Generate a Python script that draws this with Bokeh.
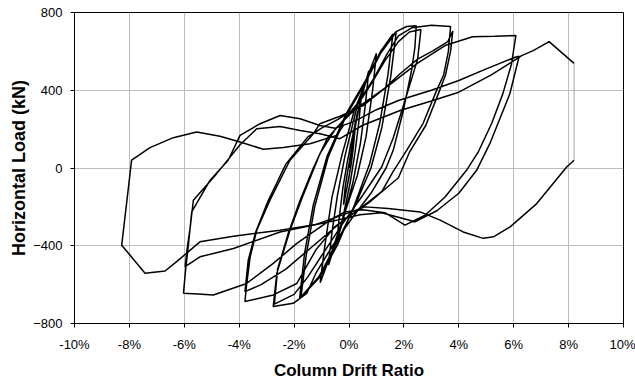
from bokeh.plotting import figure
from bokeh.models import Range1d, FixedTicker
from bokeh.embed import file_html
from bokeh.resources import INLINE

# ---- data: (drift %, load kN) ----
cycle_1 = [(0, 0), (0.1, 100), (0.22, 200), (0.16, 110), (0.08, 20), (-0.06, -90), (-0.2, -190),
           (-0.14, -100), (-0.04, -10), (0.05, 60)]
cycle_2 = [(0.05, 60), (0.25, 230), (0.45, 370), (0.36, 240), (0.22, 80), (0.05, -70), (-0.2, -240),
           (-0.45, -390), (-0.36, -260), (-0.22, -100), (-0.05, 40)]
cycle_3 = [(-0.05, 40), (0.3, 280), (0.72, 500), (0.6, 330), (0.42, 130), (0.15, -70), (-0.3, -310),
           (-0.75, -500), (-0.62, -330), (-0.42, -140), (-0.15, 60)]
cycle_4 = [(-0.15, 60), (0.3, 320), (0.7, 480), (1.0, 590), (0.86, 400), (0.62, 160), (0.3, -40),
           (-0.2, -250), (-0.65, -440), (-1.05, -590), (-0.88, -400), (-0.62, -150), (-0.25, 70)]
cycle_5 = [(-0.25, 70), (0.2, 300), (0.7, 470), (1.15, 600), (1.6, 690), (1.42, 480), (1.12, 230),
           (0.75, 20), (0.2, -190), (-0.4, -390), (-1.05, -560), (-1.75, -665), (-1.56, -450),
           (-1.25, -200), (-0.75, 60)]
cycle_6 = [(-0.75, 60), (-0.1, 270), (0.6, 440), (1.15, 590), (1.72, 700), (1.52, 470), (1.2, 210),
           (0.8, 0), (0.2, -200), (-0.5, -400), (-1.1, -560), (-1.8, -672), (-1.62, -440),
           (-1.3, -190), (-0.8, 60)]
cycle_7 = [(-0.8, 60), (-0.1, 280), (0.6, 450), (1.2, 610), (1.7, 700), (2.1, 728), (2.45, 732),
           (2.4, 620), (2.28, 502), (1.98, 296), (1.61, 91), (1.35, 0), (0.8, -130), (0.1, -260),
           (-0.6, -400), (-1.2, -540), (-1.54, -645), (-2.03, -696), (-2.76, -713), (-2.63, -542),
           (-2.15, -320), (-1.7, -150), (-1.06, 74), (-0.5, 200)]
cycle_8 = [(-0.5, 200), (0.2, 300), (0.8, 430), (1.3, 550), (1.8, 650), (2.2, 700), (2.62, 712),
           (2.5, 560), (2.04, 347), (1.6, 150), (1.19, 5), (0.5, -140), (-0.2, -280), (-0.9, -430),
           (-1.5, -560), (-2.0, -650), (-2.72, -700), (-2.6, -520), (-2.2, -330), (-1.78, -166),
           (-1.3, 0), (-0.8, 150), (-0.3, 230)]
cycle_9 = [(-0.3, 230), (0.3, 330), (0.9, 460), (1.4, 590), (1.8, 680), (2.3, 722), (3.0, 735),
           (3.7, 728), (3.62, 600), (3.45, 480), (3.19, 398), (2.7, 230), (2.1, 91), (1.6, -20),
           (1.2, -120), (0.3, -220), (-0.5, -300), (-1.2, -420), (-1.9, -594), (-2.76, -653),
           (-3.79, -687), (-3.73, -600), (-3.6, -457), (-3.36, -320), (-2.88, -166), (-2.15, 40),
           (-1.3, 176), (-1.06, 228), (-0.4, 262)]
cycle_10 = [(-0.4, 262), (0.5, 320), (1.3, 410), (1.86, 485), (2.5, 560), (3.07, 604), (3.6, 650),
            (3.78, 705), (3.7, 600), (3.52, 480), (3.25, 380), (2.8, 220), (2.2, 80), (1.8, -50),
            (0.8, -170), (-0.3, -280), (-1.3, -400), (-2.3, -520), (-3.2, -600), (-3.79, -636),
            (-3.67, -474), (-3.4, -330), (-2.95, -170), (-2.3, 20), (-1.5, 160), (-1.0, 205),
            (-0.4, 250)]
cycle_11 = [(-0.4, 250), (0.5, 330), (1.5, 430), (2.5, 540), (3.5, 630), (4.5, 675), (5.3, 678),
            (6.08, 682), (5.92, 535), (5.6, 380), (5.2, 230), (4.7, 80), (4.28, -12), (3.5, -149),
            (2.77, -243), (2.04, -294), (1.31, -230), (0.5, -215), (-0.15, -226), (-0.69, -268),
            (-1.9, -388), (-2.76, -491), (-3.73, -594), (-4.94, -653), (-5.5, -648), (-6.03, -644),
            (-5.95, -520), (-5.85, -396), (-5.73, -226), (-5.06, -63), (-4.4, 40), (-3.97, 168),
            (-3.24, 228), (-2.51, 270), (-1.78, 253), (-1.06, 219), (-0.5, 205)]
cycle_12 = [(-0.5, 205), (0.2, 240), (1.0, 300), (1.8, 347), (3.0, 400), (4.0, 450), (5.0, 510),
            (6.05, 570), (6.2, 575), (5.86, 382), (5.13, 125), (4.65, -12), (4.0, -130), (3.2, -220),
            (2.4, -277), (1.7, -250), (1.19, -230), (0.4, -240), (-0.5, -270), (-1.5, -300),
            (-2.51, -329), (-4.21, -414), (-5.43, -457), (-5.97, -508), (-5.9, -420), (-5.78, -300),
            (-5.67, -166), (-4.82, -29), (-3.97, 120), (-3.36, 202), (-2.51, 214), (-1.78, 193),
            (-1.06, 176), (-0.33, 151)]
final_push = [(-0.33, 151), (0.5, 220), (1.86, 296), (3.0, 345), (4.0, 390), (5.2, 480), (6.29, 578),
              (6.71, 604), (7.29, 650), (8.2, 538)]
final_gap = [(8.2, 538), (8.2, 40)]
final_pull = [(8.2, 40), (7.93, 5), (6.84, -183), (5.87, -303), (5.26, -354), (4.89, -362),
              (4.16, -329), (3.32, -268), (2.59, -226), (1.43, -208), (0.58, -200), (-0.2, -240),
              (-1.2, -290), (-2.51, -320), (-4.21, -351), (-5.43, -380), (-6.28, -482), (-6.7, -530),
              (-7.43, -542), (-8.28, -397), (-7.92, 40), (-7.25, 105), (-6.4, 156), (-5.55, 185),
              (-4.7, 163), (-3.97, 134), (-3.12, 96), (-2.39, 105), (-1.42, 125), (-0.45, 168),
              (-0.2, 219)]

x_ticks = [-10, -8, -6, -4, -2, 0, 2, 4, 6, 8, 10]
x_tick_labels = ["-10%", "-8%", "-6%", "-4%", "-2%", "0%", "2%", "4%", "6%", "8%", "10%"]
y_ticks = [-800, -400, 0, 400, 800]

main_path = (cycle_1 + cycle_2 + cycle_3 + cycle_4 + cycle_5 + cycle_6 + cycle_7 + cycle_8 +
             cycle_9 + cycle_10 + cycle_11 + cycle_12 + final_push)

FONT = "Liberation Sans"

p = figure(width=635, height=383, x_range=Range1d(-10, 10), y_range=Range1d(-800, 800),
           output_backend="svg", toolbar_location=None,
           min_border_left=74, min_border_right=12, min_border_top=12, min_border_bottom=60)
p.background_fill_color = "white"
p.border_fill_color = "white"
p.outline_line_color = "black"
p.outline_line_width = 1

for seg, col, w in [(main_path, "black", 1.5), (final_gap, "#8a8a8a", 0.8), (final_pull, "black", 1.5)]:
    xs = [a for a, b in seg]
    ys = [b for a, b in seg]
    p.line(xs, ys, line_color=col, line_width=w)

p.xaxis.ticker = FixedTicker(ticks=x_ticks)
p.xaxis.major_label_overrides = {t: l for t, l in zip(x_ticks, x_tick_labels)}
p.yaxis.ticker = FixedTicker(ticks=y_ticks)
p.xgrid.ticker = FixedTicker(ticks=x_ticks)
p.ygrid.ticker = FixedTicker(ticks=y_ticks)
p.grid.grid_line_color = "#bdbdbd"
p.grid.grid_line_width = 1

for ax in (p.xaxis, p.yaxis):
    ax.axis_line_color = "black"
    ax.axis_line_width = 1
    ax.major_tick_line_color = "black"
    ax.major_tick_in = 0
    ax.major_tick_out = 4
    ax.minor_tick_line_color = None
    ax.major_label_text_font = FONT
    ax.major_label_text_font_size = "13px"
    ax.major_label_text_color = "black"
    ax.axis_label_text_font = FONT
    ax.axis_label_text_font_style = "bold"
    ax.axis_label_text_color = "black"

p.xaxis.axis_label = "Column Drift Ratio"
p.xaxis.axis_label_text_font_size = "17px"
p.xaxis.major_label_standoff = 9
p.xaxis.axis_label_standoff = 6
p.yaxis.axis_label = "Horizontal Load (kN)"
p.yaxis.axis_label_text_font_size = "18px"
p.yaxis.major_label_standoff = 8
p.yaxis.axis_label_standoff = 1

open("out.html", "w").write(file_html(p, INLINE))
